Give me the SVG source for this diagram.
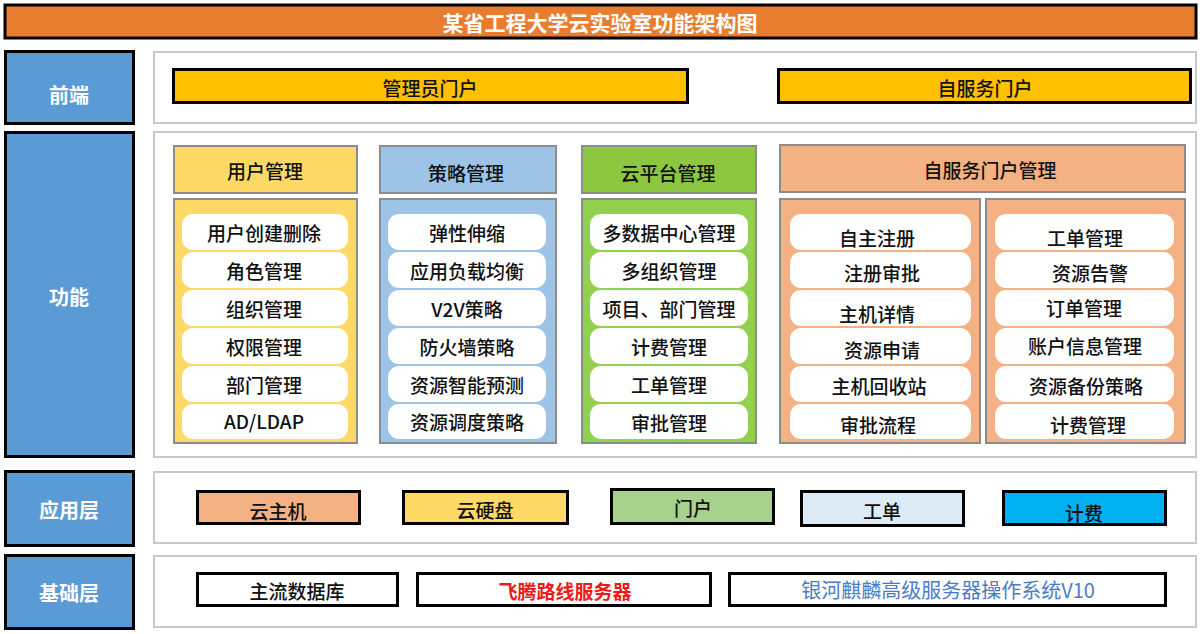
<svg xmlns="http://www.w3.org/2000/svg" width="1204" height="634" viewBox="0 0 1204 634">
<style>
text{font-family:"Noto Sans CJK SC","Liberation Sans",sans-serif;text-anchor:middle;dominant-baseline:central;fill:#111;font-weight:500}
.lbl rect{fill:#5B9BD5;stroke:#000;stroke-width:3}
.lbl text{fill:#fff;font-size:20px;font-weight:700}
.panel{fill:#fff;stroke:#C5CAD0;stroke-width:2}
.bar{stroke:#000;stroke-width:3}
.bar-t{font-size:19px}
.hd{stroke:#8C8C8C;stroke-width:2}
.hd-t{font-size:19px}
.it{fill:#fff;stroke:none}
.it-t{font-size:19px}
.yel{fill:#FFD966}.blu{fill:#9DC3E6}.grn{fill:#92D050}.org{fill:#F4B183}
</style>
<rect width="1204" height="634" fill="#fff"/>
<g id="title">
<rect x="5" y="5" width="1191" height="33" fill="#E97D2F" stroke="#000" stroke-width="3"/>
<text x="600" y="22" style="fill:#fff;font-size:21px;font-weight:700">某省工程大学云实验室功能架构图</text>
</g>
<g id="connectors"/>
<!-- Left layer labels -->
<g id="lbl-front" class="lbl"><rect x="5.5" y="51.5" width="128" height="72"/><text x="69" y="94">前端</text></g>
<g id="lbl-func" class="lbl"><rect x="5.5" y="132.5" width="128" height="324"/><text x="69" y="296">功能</text></g>
<g id="lbl-app" class="lbl"><rect x="5.5" y="471.5" width="128" height="74"/><text x="69" y="509">应用层</text></g>
<g id="lbl-base" class="lbl"><rect x="5.5" y="555.5" width="128" height="73"/><text x="69" y="592">基础层</text></g>
<!-- Front -->
<g id="front">
<rect class="panel" x="154" y="52" width="1042" height="71"/>
</g>
<g id="admin-portal"><rect class="bar" x="173.5" y="69.5" width="514" height="33" fill="#FFC000"/><text class="bar-t" x="430" y="87">管理员门户</text></g>
<g id="self-portal"><rect class="bar" x="778.5" y="69.5" width="412" height="33" fill="#FFC000"/><text class="bar-t" x="985" y="87">自服务门户</text></g>
<!-- Function -->
<g id="func-panel"><rect class="panel" x="154" y="132" width="1042" height="325"/></g>
<g id="col-user">
<rect class="hd yel" x="174" y="146" width="183" height="47"/><text class="hd-t" x="265" y="170">用户管理</text>
<rect class="hd yel" x="174" y="199" width="183" height="244"/>
<rect class="it" x="182" y="214" width="166" height="36" rx="11"/><text class="it-t" x="264" y="232">用户创建删除</text>
<rect class="it" x="182" y="252" width="166" height="36" rx="11"/><text class="it-t" x="264" y="270">角色管理</text>
<rect class="it" x="182" y="290" width="166" height="36" rx="11"/><text class="it-t" x="264" y="308">组织管理</text>
<rect class="it" x="182" y="328" width="166" height="36" rx="11"/><text class="it-t" x="264" y="346">权限管理</text>
<rect class="it" x="182" y="366" width="166" height="36" rx="11"/><text class="it-t" x="264" y="384">部门管理</text>
<rect class="it" x="182" y="404" width="166" height="35" rx="11"/><text class="it-t" x="264" y="420">AD/LDAP</text>
</g>
<g id="col-policy">
<rect class="hd blu" x="380" y="146" width="176" height="47"/><text class="hd-t" x="466" y="172">策略管理</text>
<rect class="hd blu" x="380" y="199" width="176" height="244"/>
<rect class="it" x="388" y="214" width="158" height="36" rx="11"/><text class="it-t" x="467" y="232">弹性伸缩</text>
<rect class="it" x="388" y="252" width="158" height="36" rx="11"/><text class="it-t" x="467" y="270">应用负载均衡</text>
<rect class="it" x="388" y="290" width="158" height="36" rx="11"/><text class="it-t" x="467" y="308">V2V策略</text>
<rect class="it" x="388" y="328" width="158" height="36" rx="11"/><text class="it-t" x="467" y="346">防火墙策略</text>
<rect class="it" x="388" y="366" width="158" height="36" rx="11"/><text class="it-t" x="467" y="384">资源智能预测</text>
<rect class="it" x="388" y="404" width="158" height="35" rx="11"/><text class="it-t" x="467" y="421">资源调度策略</text>
</g>
<g id="col-cloud">
<rect class="hd" x="582" y="146" width="174" height="47" fill="#8DC63F"/><text class="hd-t" x="668" y="172">云平台管理</text>
<rect class="hd grn" x="582" y="199" width="174" height="244"/>
<rect class="it" x="590" y="214" width="158" height="36" rx="11"/><text class="it-t" x="669" y="232">多数据中心管理</text>
<rect class="it" x="590" y="252" width="158" height="36" rx="11"/><text class="it-t" x="669" y="270">多组织管理</text>
<rect class="it" x="590" y="290" width="158" height="36" rx="11"/><text class="it-t" x="669" y="308">项目、部门管理</text>
<rect class="it" x="590" y="328" width="158" height="36" rx="11"/><text class="it-t" x="669" y="346">计费管理</text>
<rect class="it" x="590" y="366" width="158" height="36" rx="11"/><text class="it-t" x="669" y="384">工单管理</text>
<rect class="it" x="590" y="404" width="158" height="35" rx="11"/><text class="it-t" x="669" y="422">审批管理</text>
</g>
<g id="col-self">
<rect class="hd org" x="780" y="145" width="405" height="47"/><text class="hd-t" x="990" y="169">自服务门户管理</text>
<rect class="hd org" x="780" y="199" width="200" height="244"/>
<rect class="hd org" x="986" y="199" width="199" height="244"/>
<rect class="it" x="790" y="214" width="181" height="36" rx="11"/><text class="it-t" x="877" y="237">自主注册</text>
<rect class="it" x="790" y="252" width="181" height="36" rx="11"/><text class="it-t" x="882" y="272">注册审批</text>
<rect class="it" x="790" y="290" width="181" height="36" rx="11"/><text class="it-t" x="877" y="313">主机详情</text>
<rect class="it" x="790" y="328" width="181" height="36" rx="11"/><text class="it-t" x="882" y="349">资源申请</text>
<rect class="it" x="790" y="366" width="181" height="36" rx="11"/><text class="it-t" x="879" y="385">主机回收站</text>
<rect class="it" x="790" y="404" width="181" height="35" rx="11"/><text class="it-t" x="878" y="424">审批流程</text>
<rect class="it" x="995" y="214" width="179" height="36" rx="11"/><text class="it-t" x="1085" y="237">工单管理</text>
<rect class="it" x="995" y="252" width="179" height="36" rx="11"/><text class="it-t" x="1090" y="272">资源告警</text>
<rect class="it" x="995" y="290" width="179" height="36" rx="11"/><text class="it-t" x="1084" y="307">订单管理</text>
<rect class="it" x="995" y="328" width="179" height="36" rx="11"/><text class="it-t" x="1085" y="345">账户信息管理</text>
<rect class="it" x="995" y="366" width="179" height="36" rx="11"/><text class="it-t" x="1086" y="385">资源备份策略</text>
<rect class="it" x="995" y="404" width="179" height="35" rx="11"/><text class="it-t" x="1088" y="424">计费管理</text>
</g>
<!-- Application layer -->
<g id="app-panel"><rect class="panel" x="154" y="472" width="1042" height="71"/></g>
<g id="app-vm"><rect class="bar" x="197.5" y="491.5" width="162" height="32" fill="#F4B183"/><text class="bar-t" x="278" y="510">云主机</text></g>
<g id="app-disk"><rect class="bar" x="403.5" y="491.5" width="164" height="32" fill="#FFD966"/><text class="bar-t" x="485" y="509">云硬盘</text></g>
<g id="app-portal"><rect class="bar" x="611.5" y="489.5" width="162" height="34" fill="#A9D18E"/><text class="bar-t" x="693" y="507">门户</text></g>
<g id="app-ticket"><rect class="bar" x="801.5" y="491.5" width="162" height="34" fill="#DDEBF7"/><text class="bar-t" x="882" y="510">工单</text></g>
<g id="app-billing"><rect class="bar" x="1003.5" y="491.5" width="162" height="33" fill="#00B0F0"/><text class="bar-t" x="1084" y="512">计费</text></g>
<!-- Base layer -->
<g id="base-panel"><rect class="panel" x="154" y="556" width="1042" height="71"/></g>
<g id="base-db"><rect class="bar" x="197.5" y="573.5" width="200" height="32" fill="#fff"/><text class="bar-t" x="297" y="590">主流数据库</text></g>
<g id="base-ft"><rect class="bar" x="417.5" y="573.5" width="293" height="32" fill="#fff"/><text class="bar-t" x="565" y="590" style="fill:#F01818;font-weight:700">飞腾路线服务器</text></g>
<g id="base-os"><rect class="bar" x="729.5" y="573.5" width="436" height="32" fill="#fff"/><text x="948" y="589" style="fill:#4A7BC8;font-size:20px;font-weight:400">银河麒麟高级服务器操作系统V10</text></g>
</svg>
